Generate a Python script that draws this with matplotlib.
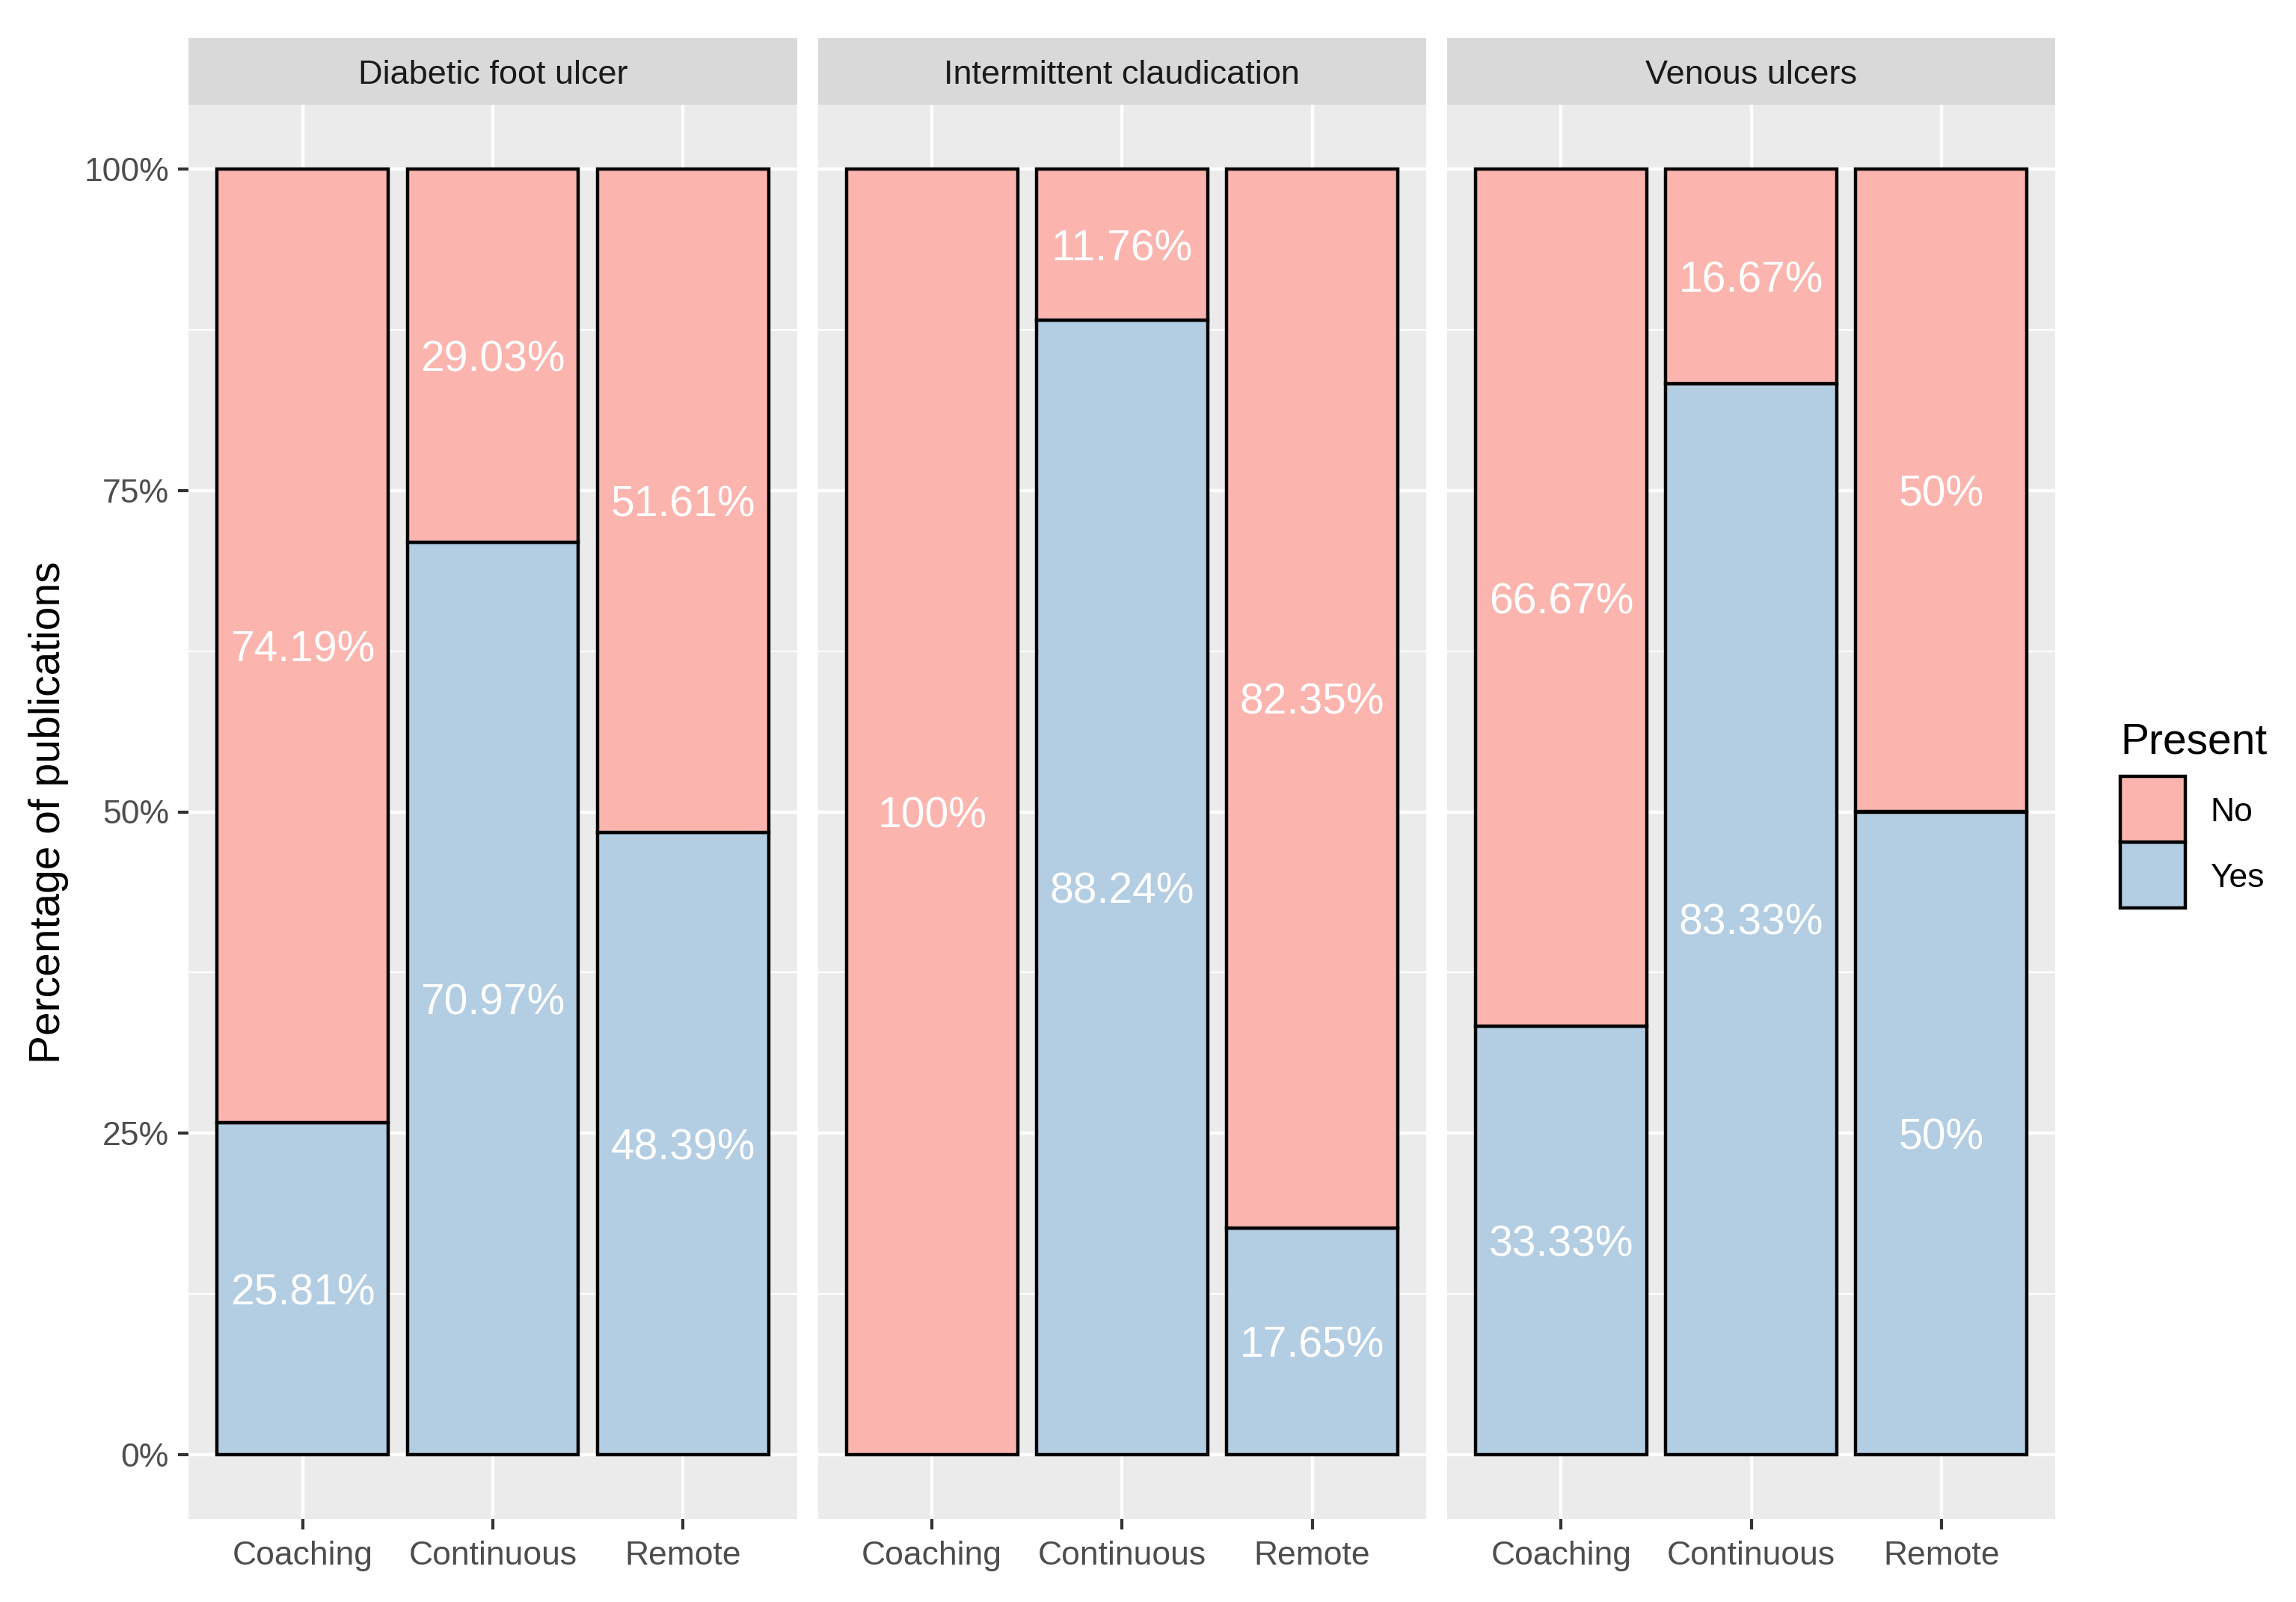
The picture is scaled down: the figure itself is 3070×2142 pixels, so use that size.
import matplotlib
matplotlib.use("Agg")
import matplotlib.pyplot as plt
from matplotlib.patches import Rectangle

plt.rcParams['font.family'] = ['Liberation Sans', 'DejaVu Sans']

# ---- data ----
panels = ["Diabetic foot ulcer", "Intermittent claudication", "Venous ulcers"]
categories = ["Coaching", "Continuous", "Remote"]
yes_dfu = [25.81, 70.97, 48.39]
no_dfu = [74.19, 29.03, 51.61]
yes_ic = [0.0, 88.24, 17.65]
no_ic = [100.0, 11.76, 82.35]
yes_vu = [33.33, 83.33, 50.0]
no_vu = [66.67, 16.67, 50.0]
legend_title = "Present"
legend_labels = ["No", "Yes"]
y_ticks = [0, 25, 50, 75, 100]
y_ticklabels = ["0%", "25%", "50%", "75%", "100%"]
y_label = "Percentage of publications"

yes_vals = [yes_dfu, yes_ic, yes_vu]
no_vals = [no_dfu, no_ic, no_vu]

# ---- style ----
C_NO = "#FBB4AE"
C_YES = "#B3CDE3"
PANEL_BG = "#EBEBEB"
STRIP_BG = "#D9D9D9"

W, H = 3070, 2142
DPI = 100
fig = plt.figure(figsize=(W / DPI, H / DPI), dpi=DPI)

def fx(px):
    return px / W

def fy(py):
    return 1 - py / H

left0 = 252.3
pw = 813.5
gap = 27.8
ax_top = 140
ax_bot = 2031
strip_top = 51

def fmt(v):
    s = f"{v:.2f}".rstrip('0').rstrip('.')
    return s + "%"

x = list(range(1, len(categories) + 1))
for i, name in enumerate(panels):
    l = left0 + i * (pw + gap)
    ax = fig.add_axes([fx(l), fy(ax_bot), pw / W, (ax_bot - ax_top) / H])
    ax.set_facecolor(PANEL_BG)
    for s in ax.spines.values():
        s.set_visible(False)
    ax.set_xlim(0.4, 3.6)
    ax.set_ylim(-5, 105)
    # grid
    for yv in [12.5, 37.5, 62.5, 87.5]:
        ax.axhline(yv, color="white", lw=1.6, zorder=0.5)
    for yv in y_ticks:
        ax.axhline(yv, color="white", lw=3.1, zorder=0.6)
    for xv in x:
        ax.axvline(xv, color="white", lw=3.1, zorder=0.6)
    yv_ = yes_vals[i]
    nv_ = no_vals[i]
    for j, xv in enumerate(x):
        if yv_[j] > 0:
            ax.bar(xv, yv_[j], width=0.9, color=C_YES, edgecolor="black", linewidth=3.2, zorder=2)
            ax.text(xv, yv_[j] / 2, fmt(yv_[j]), color="white", fontsize=41,
                    ha="center", va="center_baseline", zorder=4)
        if nv_[j] > 0:
            ax.bar(xv, nv_[j], bottom=yv_[j], width=0.9, color=C_NO, edgecolor="black", linewidth=3.2, zorder=2)
            ax.text(xv, yv_[j] + nv_[j] / 2, fmt(nv_[j]), color="white", fontsize=41,
                    ha="center", va="center_baseline", zorder=4)
    ax.set_xticks(x)
    ax.set_xticklabels(categories)
    ax.tick_params(axis="x", length=10, width=3, color="#333333", labelsize=32, labelcolor="#4D4D4D", pad=11)
    if i == 0:
        ax.set_yticks(y_ticks)
        ax.set_yticklabels(y_ticklabels)
        ax.tick_params(axis="y", length=10, width=3, color="#333333", labelsize=32, labelcolor="#4D4D4D", pad=9)
        for t in ax.get_yticklabels():
            t.set_verticalalignment("center_baseline")
    else:
        ax.set_yticks([])
    # strip
    sax = fig.add_axes([fx(l), fy(ax_top), pw / W, (ax_top - strip_top) / H])
    sax.set_facecolor(STRIP_BG)
    sax.set_xticks([]); sax.set_yticks([])
    for s in sax.spines.values():
        s.set_visible(False)
    sax.text(0.5, 0.5, name, transform=sax.transAxes, ha="center", va="center_baseline",
             fontsize=32.5, color="#1A1A1A")

# y label
fig.text(fx(65), fy(1086), y_label, rotation=90, ha="center", va="center", fontsize=41, color="black")

# legend (manual)
fig.text(fx(2835), fy(1007), legend_title, ha="left", va="baseline", fontsize=41, color="black")
key_x, key_w = 2835, 87
key_tops = [1038, 1126]
for lab, col, kt in zip(legend_labels, [C_NO, C_YES], key_tops):
    fig.patches.append(Rectangle((fx(key_x), fy(kt + 88)), key_w / W, 88 / H,
                                 transform=fig.transFigure, facecolor=col,
                                 edgecolor="black", linewidth=3.2))
    fig.text(fx(2955), fy(kt + 44), lab, ha="left", va="center_baseline", fontsize=32, color="black")

fig.savefig("out.png", dpi=DPI, facecolor="white")
